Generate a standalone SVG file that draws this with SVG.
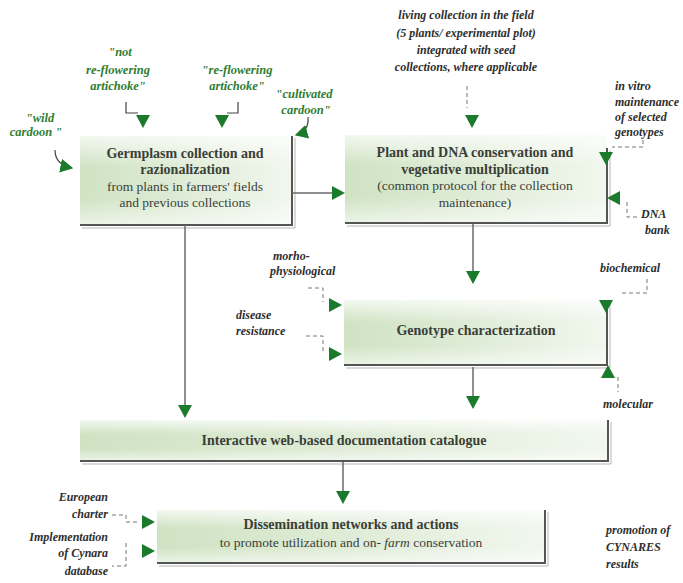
<svg xmlns="http://www.w3.org/2000/svg" width="683" height="583" viewBox="0 0 683 583">
<style>
.bt{font-family:'Liberation Serif','Times New Roman','DejaVu Serif',serif;font-size:14px;font-weight:bold;fill:#3a3f38;text-anchor:middle}
.bn{font-family:'Liberation Serif','Times New Roman','DejaVu Serif',serif;font-size:13.5px;fill:#3a3f38;text-anchor:middle}
.lb{font-family:'Liberation Serif','Times New Roman','DejaVu Serif',serif;font-size:12px;font-weight:bold;font-style:italic;fill:#2e2e2e}
.lg{font-family:'Liberation Serif','Times New Roman','DejaVu Serif',serif;font-size:12.5px;font-weight:bold;font-style:italic;fill:#2f7d32;text-anchor:middle}
.edge{fill:none;stroke:#555;stroke-width:2}
.edge2{fill:none;stroke:#b5b5b5;stroke-width:1}
.flow{fill:none;stroke:#6a6a6a;stroke-width:1.5}
.dash{fill:none;stroke:#777;stroke-width:1;stroke-dasharray:4 3}
.thin{fill:none;stroke:#444;stroke-width:1.2}
.ah{fill:#1b7a2c}
</style>
<defs>
<linearGradient id="gh" x1="0" y1="0" x2="1" y2="0">
<stop offset="0" stop-color="#cfe3c3"/>
<stop offset="0.5" stop-color="#dfecd7"/>
<stop offset="1" stop-color="#f1f7ee"/>
</linearGradient>
<linearGradient id="gv" x1="0" y1="0" x2="0" y2="1">
<stop offset="0" stop-color="#fff" stop-opacity="0.75"/>
<stop offset="0.35" stop-color="#fff" stop-opacity="0"/>
<stop offset="0.7" stop-color="#fff" stop-opacity="0"/>
<stop offset="1" stop-color="#fff" stop-opacity="0.6"/>
</linearGradient>
<path id="tri" d="M-7,-13 L7,-13 L0,0 Z"/>
<marker id="mk" viewBox="0 0 10 10" refX="9" refY="5" markerUnits="userSpaceOnUse" markerWidth="13" markerHeight="14" preserveAspectRatio="none" orient="auto">
<path d="M0,0 L10,5 L0,10 Z" fill="#1b7a2c"/>
</marker>
</defs>
<rect width="683" height="583" fill="#fff"/>

<g id="germplasm">
<rect x="80" y="136" width="212" height="89" fill="url(#gh)"/>
<rect x="80" y="136" width="212" height="89" fill="url(#gv)"/>
<polyline class="edge2" points="295,138 295,228 82,228"/>
<polyline class="edge" points="292,136 292,225 80,225"/>
<text class="bt" x="185" y="158">Germplasm collection and</text>
<text class="bt" x="185" y="174">razionalization</text>
<text class="bn" x="185" y="191">from plants in farmers' fields</text>
<text class="bn" x="185" y="207">and previous collections</text>
</g>

<g id="plant">
<rect x="345" y="135" width="262" height="88" fill="url(#gh)"/>
<rect x="345" y="135" width="262" height="88" fill="url(#gv)"/>
<polyline class="edge2" points="610,150 610,226 347,226"/>
<polyline class="edge" points="607,148 607,223 345,223"/>
<text class="bt" x="475" y="157">Plant and DNA conservation and</text>
<text class="bt" x="475" y="174">vegetative multiplication</text>
<text class="bn" x="475" y="190">(common protocol  for the collection</text>
<text class="bn" x="475" y="207">maintenance)</text>
</g>

<g id="genotype">
<rect x="344" y="300" width="263" height="65" fill="url(#gh)"/>
<rect x="344" y="300" width="263" height="65" fill="url(#gv)"/>
<polyline class="edge2" points="610,302 610,368 346,368"/>
<polyline class="edge" points="607,300 607,365 344,365"/>
<text class="bt" x="476" y="335">Genotype characterization</text>
</g>

<g id="interactive">
<rect x="80" y="420" width="528" height="41" fill="url(#gh)"/>
<rect x="80" y="420" width="528" height="41" fill="url(#gv)"/>
<polyline class="edge2" points="611,422 611,464 82,464"/>
<polyline class="edge" points="608,420 608,461 80,461"/>
<text class="bt" x="344" y="445">Interactive web-based documentation catalogue</text>
</g>

<g id="dissemination">
<rect x="157" y="510" width="388" height="53" fill="url(#gh)"/>
<rect x="157" y="510" width="388" height="53" fill="url(#gv)"/>
<polyline class="edge2" points="548,512 548,566 159,566"/>
<polyline class="edge" points="545,510 545,563 157,563"/>
<text class="bt" x="351" y="529">Dissemination networks and actions</text>
<text class="bn" x="351" y="547">to promote utilization and on- <tspan font-style="italic">farm</tspan> conservation</text>
</g>

<g id="labels">
<text class="lg" x="120" y="56">"not</text>
<text class="lg" x="118" y="74">re-flowering</text>
<text class="lg" x="118" y="90">artichoke"</text>
<text class="lg" x="237" y="74">"re-flowering</text>
<text class="lg" x="237" y="90">artichoke"</text>
<text class="lg" x="304" y="98">"cultivated</text>
<text class="lg" x="306" y="114">cardoon"</text>
<text class="lg" x="40" y="122">"wild</text>
<text class="lg" x="36" y="136">cardoon "</text>
<text class="lb" x="466" y="19" text-anchor="middle">living collection in the field</text>
<text class="lb" x="466" y="37" text-anchor="middle">(5 plants/ experimental plot)</text>
<text class="lb" x="466" y="54" text-anchor="middle">integrated with  seed</text>
<text class="lb" x="466" y="71" text-anchor="middle">collections, where applicable</text>
<text class="lb" x="615" y="90">in vitro</text>
<text class="lb" x="615" y="106">maintenance</text>
<text class="lb" x="615" y="121">of selected</text>
<text class="lb" x="615" y="136">genotypes</text>
<text class="lb" x="641" y="218">DNA</text>
<text class="lb" x="645" y="234">bank</text>
<text class="lb" x="273" y="260">morho-</text>
<text class="lb" x="270" y="275">physiological</text>
<text class="lb" x="236" y="319">disease</text>
<text class="lb" x="236" y="335">resistance</text>
<text class="lb" x="600" y="272">biochemical</text>
<text class="lb" x="603" y="408">molecular</text>
<text class="lb" x="108" y="501" text-anchor="end">European</text>
<text class="lb" x="108" y="518" text-anchor="end">charter</text>
<text class="lb" x="108" y="541" text-anchor="end">Implementation</text>
<text class="lb" x="108" y="557" text-anchor="end">of Cynara</text>
<text class="lb" x="108" y="575" text-anchor="end">database</text>
<text class="lb" x="606" y="534">promotion of</text>
<text class="lb" x="606" y="551">CYNARES</text>
<text class="lb" x="606" y="568">results</text>
</g>

<g id="connectors">
<line class="flow" x1="292" y1="193" x2="332" y2="193"/>
<use href="#tri" class="ah" transform="translate(345,193) rotate(-90)"/>
<line class="flow" x1="185" y1="225" x2="185" y2="405"/>
<use href="#tri" class="ah" transform="translate(185,418)"/>
<line class="flow" x1="473" y1="224" x2="473" y2="271"/>
<use href="#tri" class="ah" transform="translate(473,284)"/>
<line class="flow" x1="473" y1="367" x2="473" y2="396"/>
<use href="#tri" class="ah" transform="translate(473,409)"/>
<line class="flow" x1="343" y1="462" x2="343" y2="491"/>
<use href="#tri" class="ah" transform="translate(343,504)"/>

<polyline class="thin" points="126,102 126,113 138,113"/>
<use href="#tri" class="ah" transform="translate(143,128)"/>
<polyline class="thin" points="238,102 238,113 227,113"/>
<use href="#tri" class="ah" transform="translate(222,128)"/>
<path class="thin" d="M308,117 C309,128 303,133 296,135" marker-end="url(#mk)"/>
<path class="thin" d="M55,150 C55,161 62,166 72,168" marker-end="url(#mk)"/>

<line class="dash" x1="467" y1="86" x2="467" y2="108"/>
<use href="#tri" class="ah" transform="translate(472,128)"/>
<polyline class="dash" points="643,140 643,147 612,147"/>
<use href="#tri" class="ah" transform="translate(606,165)"/>
<polyline class="dash" points="627,202 627,217 638,217"/>
<use href="#tri" class="ah" transform="translate(607,198) rotate(90)"/>
<polyline class="dash" points="308,288 323,288 323,302"/>
<use href="#tri" class="ah" transform="translate(342,305) rotate(-90)"/>
<polyline class="dash" points="306,336 323,336 323,351"/>
<use href="#tri" class="ah" transform="translate(342,354) rotate(-90)"/>
<polyline class="dash" points="647,279 647,293 620,293"/>
<use href="#tri" class="ah" transform="translate(606,313)"/>
<line class="dash" x1="618" y1="377" x2="618" y2="392"/>
<use href="#tri" class="ah" transform="translate(608,365) rotate(180)"/>
<polyline class="dash" points="112,515 126,515 126,522 140,522"/>
<use href="#tri" class="ah" transform="translate(155,522) rotate(-90)"/>
<polyline class="dash" points="126,543 126,566 112,566"/>
<use href="#tri" class="ah" transform="translate(155,551) rotate(-90)"/>
</g>
</svg>
